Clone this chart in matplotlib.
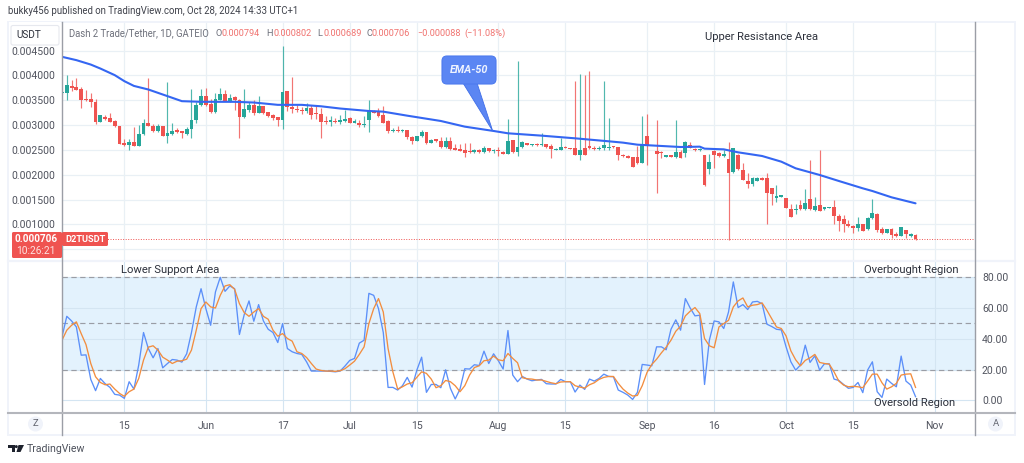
import numpy as np
import matplotlib
matplotlib.use("Agg")
import matplotlib.pyplot as plt
from matplotlib.patches import FancyBboxPatch, Polygon, Rectangle, Circle
from matplotlib.lines import Line2D

plt.rcParams["font.family"] = "Roboto"

# ---------- data (prices are in thousandths of USDT) ----------
nan = float("nan")
open_milli = [
 3.64,3.64,3.79,3.77,3.73,3.52,3.52,3.47,3.07,3.16,3.14,3.09,2.99,2.65,2.60,2.66,2.59,2.82,3.05,2.99,
 2.88,2.99,2.79,2.83,2.89,2.87,2.83,2.92,3.10,3.40,3.58,3.43,3.27,3.50,3.63,3.48,3.56,3.50,3.16,3.30,
 3.40,3.25,3.38,3.26,3.20,3.16,3.10,3.68,3.37,3.33,3.31,3.28,3.35,3.25,3.23,3.09,3.07,3.08,3.06,
 3.09,3.14,3.05,3.05,3.00,3.10,3.28,3.26,3.20,3.09,2.88,2.90,2.88,2.90,2.76,2.69,2.78,2.86,2.65,2.71,
 2.69,2.57,2.68,2.54,2.51,2.49,2.46,2.46,2.47,2.45,2.53,2.47,2.48,2.46,2.42,2.70,2.45,2.56,2.64,2.60,
 2.62,2.60,2.62,2.58,2.49,2.50,2.57,2.53,2.54,2.39,2.55,2.59,2.55,2.51,2.54,2.53,2.58,2.56,2.40,2.38,
 2.35,2.36,2.24,2.79,nan,2.48,2.45,2.36,2.38,2.35,
 2.46,2.447,2.61,2.52,2.49,2.39,2.12,2.48,2.44,2.37,2.31,2.06,2.40,2.09,1.88,1.82,1.88,1.94,1.94,1.735,
 1.54,1.56,1.53,1.305,1.29,1.39,1.305,1.51,1.285,1.39,1.31,1.33,1.345,1.17,1.11,1.01,.975,.93,1.01,.915,
 1.125,1.21,.90,.835,.90,.80,.775,.88,.77,.794]
high_milli = [
 3.68,4.0,3.9,3.94,3.76,3.70,3.64,3.52,3.21,3.2,3.24,3.11,2.99,2.73,2.73,2.97,3.0,3.13,3.95,3.03,
 3.02,2.99,3.87,3.05,2.95,2.89,2.97,3.72,3.47,3.72,3.74,3.53,3.64,3.74,3.70,3.63,3.58,3.53,3.72,3.47,
 3.50,3.58,3.38,3.27,3.22,3.16,4.60,3.68,3.97,3.40,3.36,3.45,3.40,3.40,3.35,3.18,3.18,3.15,3.20,
 3.305,3.17,3.12,3.10,3.18,3.51,3.30,3.35,3.38,3.10,2.95,2.98,2.93,2.90,2.78,2.78,2.90,2.87,2.72,2.72,
 2.76,2.76,2.77,2.63,2.62,2.65,2.65,2.52,2.51,2.59,2.54,2.51,2.57,2.47,3.12,2.70,4.30,2.68,2.65,2.63,
 2.64,2.85,2.62,2.63,2.53,2.74,2.58,2.54,3.89,4.04,4.01,4.10,2.58,2.58,3.89,3.15,2.59,2.57,2.41,2.39,
 2.36,2.59,3.18,3.22,nan,3.10,2.48,2.39,2.40,3.10,
 2.50,2.69,2.67,2.53,2.53,2.40,2.41,2.49,2.45,2.50,2.67,2.55,2.41,2.23,2.03,1.95,1.95,1.95,2.03,1.74,
 1.79,1.585,1.53,1.41,1.41,1.49,1.71,2.30,1.55,2.50,1.36,1.35,1.49,1.205,1.19,1.09,.99,1.16,1.01,1.16,
 1.515,1.24,.955,.91,.92,.85,.955,.89,.835,.802]
low_milli = [
 3.62,3.5,3.69,3.70,3.35,3.49,3.36,3.02,3.06,3.1,3.06,2.97,2.62,2.59,2.50,2.58,2.58,2.81,2.98,2.87,
 2.86,2.78,2.65,2.80,2.85,2.75,2.81,2.75,3.05,3.38,3.39,3.25,3.25,3.5,3.48,3.47,3.31,2.75,3.14,3.27,
 3.20,3.24,3.23,3.17,3.11,2.99,2.93,3.29,3.24,3.27,3.22,3.25,3.13,3.13,2.75,3.03,2.99,3.05,3.03,
 3.06,3.04,3.04,2.96,2.97,2.87,3.24,3.17,3.04,2.84,2.87,2.86,2.86,2.73,2.63,2.68,2.76,2.63,2.64,2.67,
 2.55,2.55,2.50,2.49,2.47,2.35,2.43,2.44,2.44,2.43,2.45,2.44,2.38,2.41,2.41,2.44,2.38,2.54,2.60,2.59,
 2.59,2.59,2.55,2.33,2.49,2.49,2.53,2.51,2.39,2.30,2.39,2.51,2.50,2.50,2.50,2.50,2.55,2.30,2.35,2.33,
 2.15,2.22,2.23,2.19,nan,1.64,2.33,2.35,2.35,2.33,
 2.33,2.35,2.53,2.48,2.48,1.78,2.02,2.145,2.36,2.36,.69,2.03,2.10,1.89,1.73,1.775,1.87,1.89,1.00,1.40,
 1.45,1.555,1.325,1.155,1.21,1.29,1.29,1.29,1.28,1.265,1.29,1.325,1.00,.875,.855,.955,.82,.875,.87,.89,
 1.11,.855,.81,.82,.73,.74,.77,.72,.755,.689]
close_milli = [
 3.66,3.80,3.75,3.71,3.50,3.50,3.47,3.07,3.20,3.13,3.07,2.98,2.63,2.60,2.66,2.59,2.83,3.05,2.99,2.88,
 2.99,2.79,2.84,2.88,2.87,2.85,2.92,3.11,3.40,3.58,3.40,3.27,3.52,3.62,3.48,3.55,3.50,3.16,3.32,3.40,
 3.24,3.38,3.25,3.19,3.15,3.11,3.66,3.36,3.32,3.30,3.28,3.34,3.21,3.22,3.07,3.06,3.08,3.06,3.10,
 3.13,3.05,3.07,3.00,3.02,3.28,3.25,3.18,3.05,2.88,2.90,2.88,2.90,2.76,2.69,2.78,2.86,2.65,2.71,2.69,
 2.57,2.68,2.52,2.50,2.48,2.44,2.45,2.47,2.46,2.53,2.47,2.48,2.47,2.42,2.69,2.45,2.57,2.66,2.61,2.62,
 2.60,2.62,2.57,2.51,2.52,2.57,2.53,2.52,2.40,2.49,2.40,2.53,2.52,2.55,2.60,2.57,2.56,2.40,2.37,2.34,
 2.16,2.23,2.61,2.61,nan,2.41,2.43,2.38,2.36,2.46,
 2.34,2.668,2.54,2.49,2.52,1.79,2.265,2.39,2.37,2.42,2.04,2.53,2.11,1.90,1.815,1.94,1.94,1.90,1.64,1.61,
 1.58,1.58,1.33,1.16,1.31,1.305,1.43,1.305,1.37,1.28,1.345,1.345,1.18,1.065,1.00,.97,.93,1.01,.875,1.14,
 1.24,.89,.82,.90,.795,.77,.95,.81,.79,.706]

ema_bar = [0,3,6,8,11,13,15,18,22,25,29,36,40,45,50,54,58,64,67,72,79,84,90,93,100,107,114,117,120,129,133,134,138,141,146,150,153,158,162,167,169,173,178]
ema_milli = [4.376,4.309,4.22,4.14,4.007,3.886,3.79,3.718,3.584,3.483,3.47,3.47,3.456,3.409,3.409,3.38,3.335,
             3.285,3.272,3.191,3.084,2.97,2.883,2.836,2.789,2.735,2.675,2.648,2.607,2.56,2.567,2.527,2.513,
             2.453,2.379,2.265,2.131,1.997,1.876,1.728,1.674,1.547,1.426]

stoch_k = [
 41.2,54.5,51.5,47.6,29.3,29.5,13.6,6.3,14.2,10.8,8.4,3.9,3.4,1.3,12.1,7.3,22.9,44.0,33.6,27.6,
 33.6,21.1,23.9,26.5,26.1,24.8,30.2,44.0,60.6,72.4,59.5,48.7,70.3,79.8,70.7,74.2,72.4,42.7,55.6,64.5,
 51.3,62.1,51.5,46.1,44.0,37.5,49.8,33.6,31.5,30.4,29.8,25.0,19.0,19.0,19.0,19.0,18.8,18.5,19.0,
 22.2,25.9,27.2,37.1,39.0,69.4,68.1,59.5,44.0,8.4,8.4,6.7,9.5,14.9,8.6,19.6,28.0,5.2,10.3,10.3,
 8.2,19.8,7.8,0.9,7.3,20.5,20.3,23.1,22.6,31.9,23.9,30.2,25.7,20.3,45.3,16.4,12.1,15.5,13.8,12.7,
 13.2,13.6,10.8,10.6,10.6,13.6,12.1,12.1,5.4,9.9,7.1,13.8,12.5,14.2,17.0,15.5,15.3,6.7,5.2,3.4,
 0.6,5.2,23.3,22.9,22.4,34.7,34.7,32.8,46.1,52.2,
 45.5,66.0,59.9,54.8,55.2,10.3,39.0,51.5,50.9,46.6,57.3,76.8,60.2,62.1,58.9,63.8,64.2,62.7,49.4,47.9,
 46.1,45.7,34.7,25.0,19.6,22.9,35.8,24.6,28.9,19.6,23.7,23.7,13.8,12.9,10.3,7.8,8.4,11.6,5.0,19.6,
 25.0,5.6,1.9,13.8,11.0,8.8,28.7,12.5,9.9,2.4]
stoch_d = [
 39.0,45.5,48.7,50.9,43.3,36.2,23.9,15.3,11.6,10.1,10.6,7.3,4.5,2.6,5.6,7.3,14.2,26.1,34.5,35.4,
 32.6,28.0,26.1,23.9,25.4,25.7,26.7,32.6,45.5,59.5,63.8,60.6,59.9,68.1,74.2,75.0,72.0,62.7,56.9,54.5,
 57.3,59.5,54.5,52.6,45.5,41.6,43.3,40.1,38.4,31.5,30.4,27.8,23.9,20.3,19.4,19.0,19.0,18.8,19.2,
 20.5,22.9,25.4,29.8,34.7,49.8,59.5,66.0,57.3,33.6,18.5,7.3,8.8,10.6,11.4,14.9,18.5,17.5,13.8,8.2,
 9.5,12.9,12.1,9.5,5.6,9.5,16.4,21.3,22.4,25.7,26.1,28.7,26.3,25.7,30.4,27.2,24.4,14.7,14.0,13.8,
 13.2,13.2,12.3,11.4,10.8,11.9,12.1,12.1,9.5,8.6,8.0,10.1,11.4,13.6,14.9,15.5,15.5,11.0,7.3,4.7,
 2.8,3.2,9.5,18.1,23.3,26.7,30.8,34.5,39.0,44.8,
 48.1,54.8,57.8,60.2,56.3,40.1,35.4,34.1,47.6,49.8,51.9,60.6,64.5,66.4,60.6,61.7,62.1,63.2,58.4,53.0,
 47.6,46.6,41.8,32.1,26.3,22.4,25.9,27.6,29.8,24.6,23.9,23.5,18.5,12.5,9.9,8.8,9.1,8.8,8.2,12.5,
 17.0,17.0,11.4,7.3,8.8,11.0,16.4,17.0,17.2,8.4]

date_tick_bars = [13,30,46,60,74,91,105,122,136,151,165,182]
date_tick_labels = ["15","Jun","17","Jul","15","Aug","15","Sep","16","Oct","15","Nov"]
price_ticks = [0.5,1.0,1.5,2.0,2.5,3.0,3.5,4.0,4.5]
price_labels = ["","0.001000","0.001500","0.002000","0.002500","0.003000","0.003500","0.004000","0.004500"]
stoch_ticks = [0,20,40,60,80]
stoch_labels = ["0.00","20.00","40.00","60.00","80.00"]

# ---------- style ----------
W, H = 1024, 463
UP, DOWN = "#26a69a", "#ef5350"
GRID = "#e9f0f5"
TXT = "#50535e"
SEP = "#9b9ea6"
FRAME = "#f0f3fa"
TICK_PT = 7.5

fig = plt.figure(figsize=(W/100, H/100), dpi=100, facecolor="white")

def fx(x): return x / W
def fy(y): return 1 - y / H
def axes_box(x0, y0, x1, y1):
    return [fx(x0), fy(y1), (x1-x0)/W, (y1-y0)/H]

ax1 = fig.add_axes(axes_box(62, 22, 975, 260))
ax2 = fig.add_axes(axes_box(62, 260.5, 975, 413))

bars = np.arange(len(close_milli))
o, h, l, c = map(np.array, (open_milli, high_milli, low_milli, close_milli))
valid = ~np.isnan(c)
up = c >= o
cols = np.where(up, UP, DOWN)

XMAX = 190.4
for ax in (ax1, ax2):
    ax.set_xlim(0, XMAX)
    ax.set_facecolor("white")
    ax.set_axisbelow(True)
    ax.set_xticks(date_tick_bars)
    ax.grid(True, color=GRID, lw=0.9)
    for s in ax.spines.values():
        s.set_visible(False)
    ax.tick_params(length=0)

# price pane
ax1.set_ylim(0.285, 5.077)
ax1.set_yticks(price_ticks)
ax1.set_yticklabels(price_labels, fontsize=TICK_PT, color=TXT)
ax1.tick_params(axis="y", pad=4.5)
ax1.tick_params(axis="x", labelbottom=False)
ax1.vlines(bars[valid], l[valid], h[valid], colors=cols[valid], lw=0.85, alpha=0.8, zorder=3)
bottoms = np.minimum(o, c)[valid]
heights = np.maximum(np.abs(c - o)[valid], 0.03)
ax1.bar(bars[valid], heights, bottom=bottoms, width=0.8, color=cols[valid], lw=0, zorder=4)
ax1.plot(ema_bar, ema_milli, color="#3466f2", lw=1.5, zorder=5, solid_capstyle="round")
ax1.axhline(close_milli[-1], color=DOWN, lw=0.7, ls=(0, (1, 1.6)), zorder=2)

# stochastic pane
ax2.set_ylim(-8.2, 90.7)
ax2.axhspan(20, 80, facecolor="#e3f2fd", lw=0, zorder=0.5)
ax2.set_yticks(stoch_ticks)
ax2.yaxis.tick_right()
ax2.set_yticklabels(stoch_labels, fontsize=TICK_PT, color=TXT)
ax2.tick_params(axis="y", pad=5)
ax2.set_xticklabels(date_tick_labels, fontsize=TICK_PT, color=TXT)
ax2.tick_params(axis="x", pad=6)
ax2.grid(True, color="#d4e5f2", lw=0.8)
for lv in (80, 50, 20):
    ax2.axhline(lv, color="#9a9da5", lw=0.85, ls=(0, (4.5, 3)), zorder=1)
ax2.plot(bars, stoch_k, color="#5b8ff9", lw=0.95, zorder=3)
ax2.plot(bars, stoch_d, color="#f28d3f", lw=0.95, zorder=4)

# ---------- frame and separators, in pixel positions ----------
def fline(x0, y0, x1, y1, color, lw=1.0, z=10):
    fig.add_artist(Line2D([fx(x0), fx(x1)], [fy(y0), fy(y1)], color=color, lw=lw, zorder=z))

fline(8, 22, 1015, 22, FRAME, 1.4)
fline(8, 22, 8, 435, FRAME, 1.4)
fline(1015, 22, 1015, 435, FRAME, 1.4)
fline(8, 435, 1015, 435, FRAME, 1.4)
fline(8, 260.5, 1015, 260.5, FRAME, 1.6)
fline(62, 22, 62, 435, SEP, 1.0)
fline(975, 22, 975, 435, SEP, 1.0)
fline(8, 413, 1015, 413, "#b4b6bc", 1.5)

def ftext(x, y, s, size=TICK_PT, color=TXT, ha="left", va="center", **kw):
    return fig.text(fx(x), fy(y), s, fontsize=size, color=color, ha=ha, va=va, zorder=20, **kw)

ftext(8, 11.5, "bukky456 published on TradingView.com, Oct 28, 2024 14:33 UTC+1", size=6.9, color="#3c3f48")
ftext(69, 33.5, "Dash 2 Trade/Tether, 1D, GATEIO", size=6.85, color="#6a6d78")
LBL = "#6a6d78"; VAL = "#f0716e"
for x, s, col in [(216, "O", LBL), (222, "0.000794", VAL), (266.5, "H", LBL), (273, "0.000802", VAL),
                  (317.5, "L", LBL), (323, "0.000689", VAL), (366.5, "C", LBL), (372, "0.000706", VAL),
                  (417, "\u22120.000088", VAL), (464, "(\u221211.08%)", VAL)]:
    ftext(x, 33.5, s, size=6.6, color=col)

def box(x0, y0, x1, y1, fc, ec="none", r=2.0, lw=0.8, z=15):
    p = FancyBboxPatch((x0, H - y1), x1 - x0, y1 - y0,
                       boxstyle=f"round,pad=0,rounding_size={r}",
                       fc=fc, ec=ec, lw=lw, transform=None, zorder=z)
    fig.add_artist(p)

# USDT button; it hides the top of the 0.004500 tick label
fig.add_artist(Rectangle((9, H - 47), 52, 25, fc="white", ec="none", transform=None, zorder=14))
box(11, 25.5, 59, 45, "white", "#e6e8ee")
ftext(29, 35.5, "USDT", ha="center", size=7.2, color="#2a2e39")

# last-price flags
box(12, 232, 62, 258, "#ef5350", r=1.5)
ftext(36, 239.5, "0.000706", ha="center", color="white", size=7.1, fontweight="bold")
ftext(36, 251, "10:26:21", ha="center", color="#fde3e2", size=7.3)
box(62, 232, 108, 246, "#ef5350", r=1.5)
ftext(85, 239.5, "D2TUSDT", ha="center", color="white", size=6.7, fontweight="bold")

# EMA callout
EMA_BLUE = "#5b86f3"
fig.add_artist(Polygon([(463, H - 83), (477, H - 83), (492.7, H - 131)], closed=True,
                       fc=EMA_BLUE, ec="#3f6ee8", lw=0.6, transform=None, zorder=15))
box(442, 56, 496, 84, EMA_BLUE, "#4d7bee", r=5)
ftext(469, 70, "EMA-50", ha="center", color="#eef3ff", size=7.8, style="italic", fontweight="bold")

# chart notes
NOTE = "#2a2e39"
ftext(705, 37, "Upper Resistance Area", color=NOTE, size=8.1)
ftext(121, 270, "Lower Support Area", color=NOTE, size=8.1)
ftext(864, 270, "Overbought Region", color=NOTE, size=8.1)
ftext(873.5, 402.5, "Oversold Region", color=NOTE, size=8.1)

# scale buttons
for cx, s in [(35.5, "Z"), (995.5, "A")]:
    fig.add_artist(Circle((cx, H - 424), 7.5, fc="#f0f3fa", ec="none", transform=None, zorder=15))
    fig.text(fx(cx), fy(424), s, fontsize=6.8, color="#5d606b", ha="center", va="center", zorder=21)

# TradingView mark
LOGO = "#1e222d"
fig.add_artist(Polygon([(8, H-445), (14.5, H-445), (14.5, H-452), (11.5, H-452), (11.5, H-448), (8, H-448)],
                       fc=LOGO, ec="none", transform=None, zorder=15))
fig.add_artist(Circle((16.3, H-446.6), 1.5, fc=LOGO, ec="none", transform=None, zorder=15))
fig.add_artist(Polygon([(18.5, H-445), (24, H-445), (20.5, H-452), (16.5, H-452)],
                       fc=LOGO, ec="none", transform=None, zorder=15))
ftext(27, 449, "TradingView", size=7.6, color="#4a4e59")

fig.savefig("out.png", dpi=100)
